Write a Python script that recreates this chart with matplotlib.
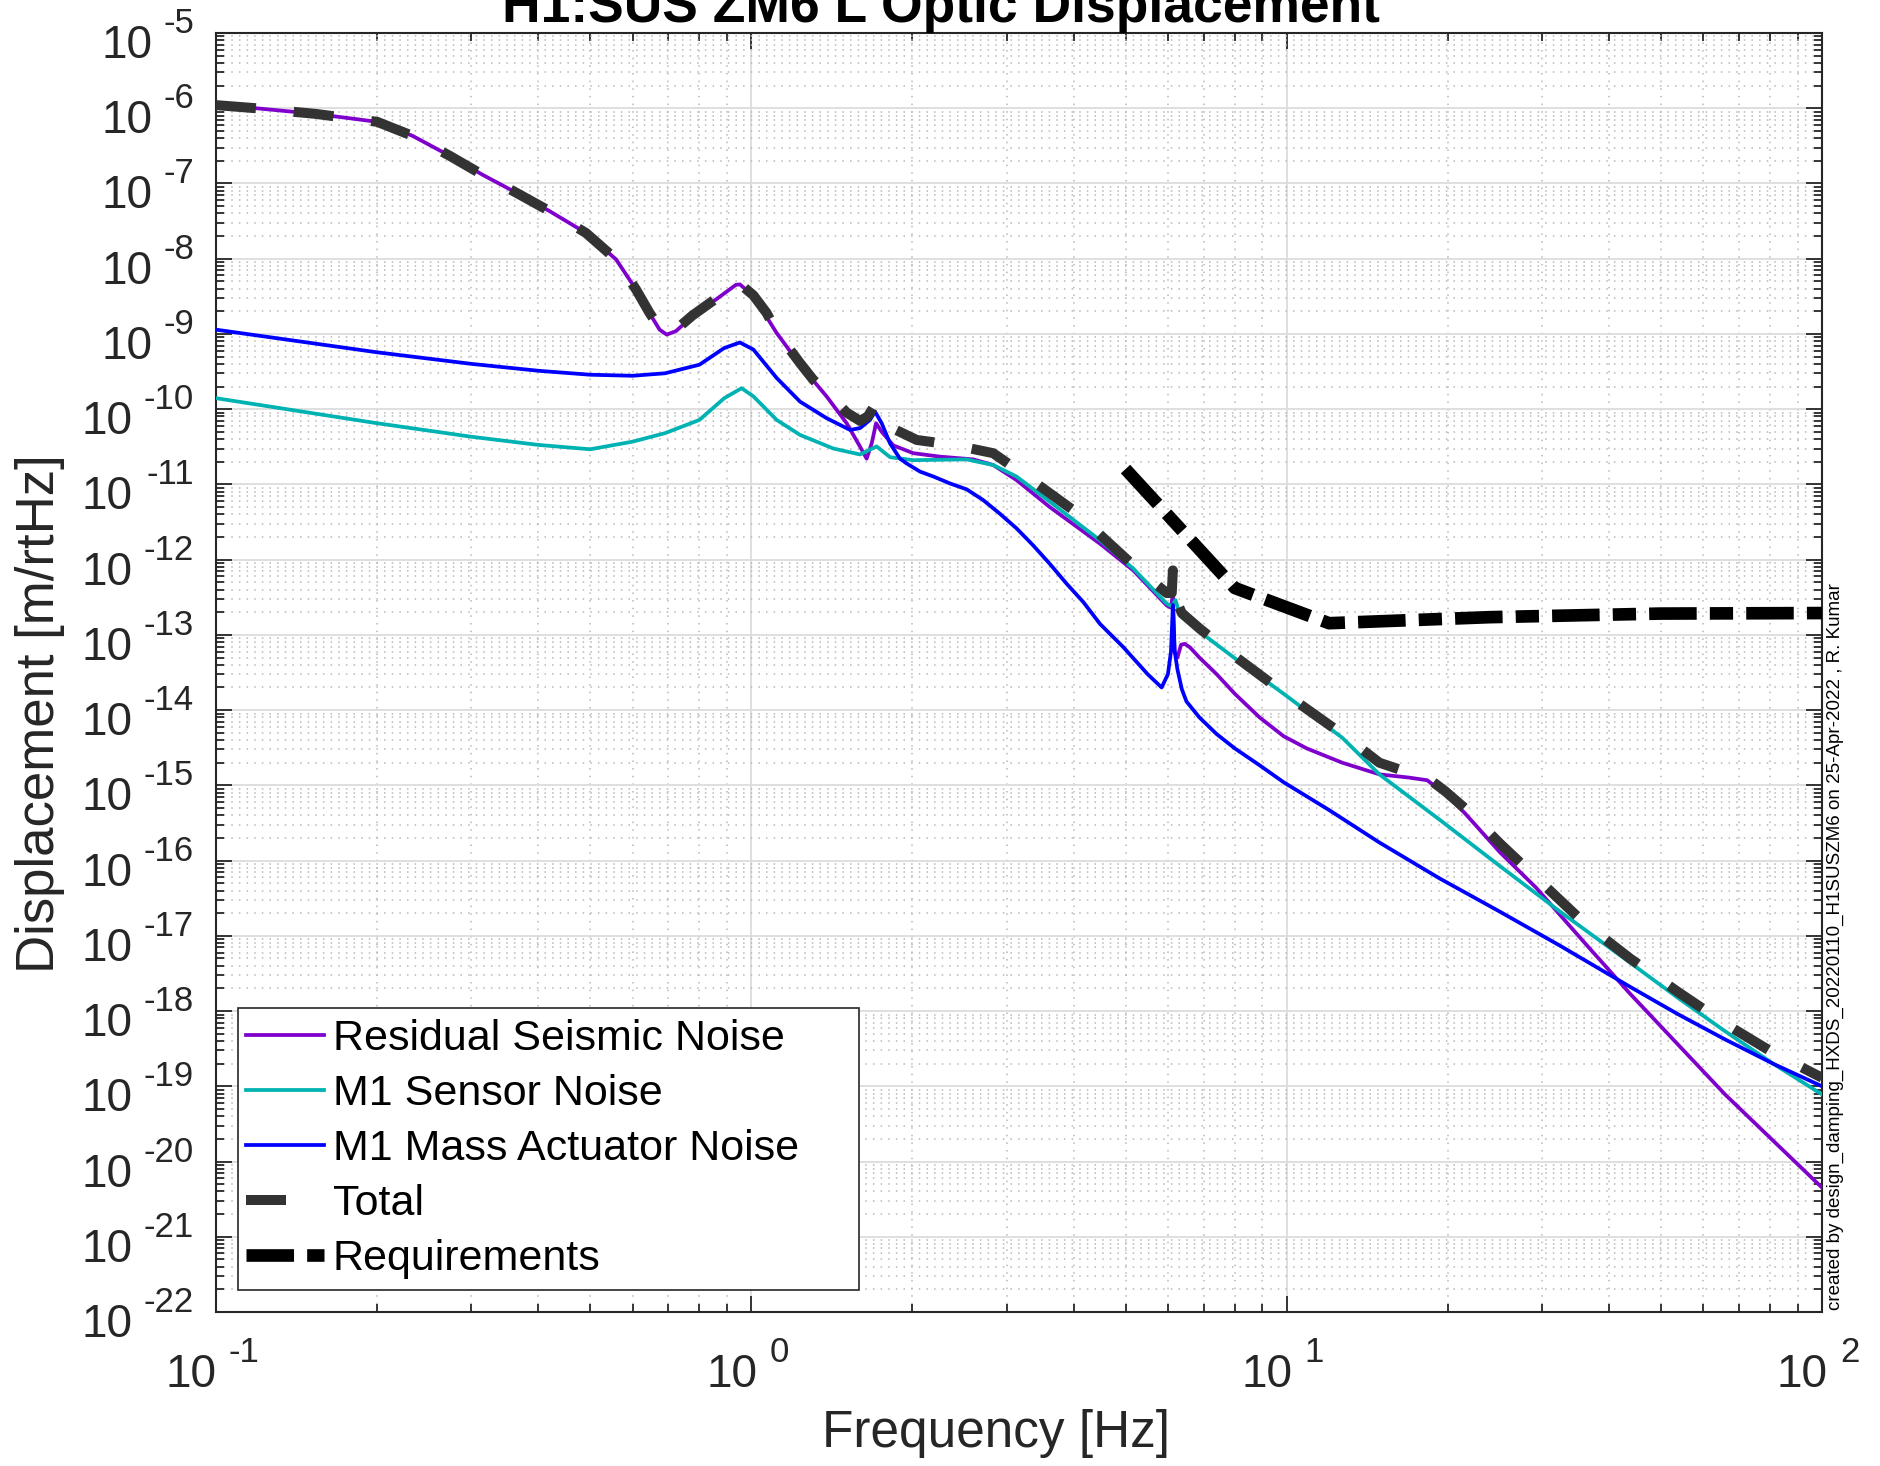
import matplotlib
matplotlib.use("Agg")
import matplotlib.pyplot as plt
from matplotlib.ticker import LogLocator, NullFormatter
from matplotlib.patches import Rectangle
import numpy as np

# ---------------- data ----------------
f_seis = [0.1, 0.1188, 0.1537, 0.2, 0.2328, 0.273, 0.315, 0.363, 0.4196, 0.491,
          0.5588, 0.609, 0.645, 0.674, 0.695, 0.723, 0.777, 0.859, 0.936, 0.952,
          1.009, 1.115, 1.233, 1.382, 1.507, 1.596, 1.642, 1.678, 1.71, 1.752,
          1.842, 2.007, 2.25, 2.598, 2.83, 3.13, 3.61, 4.48, 5.17, 5.97,
          6.08, 6.13, 6.17, 6.25, 6.35, 6.45, 6.6, 6.87, 7.4, 8.0,
          8.9, 9.87, 10.9, 12.7, 14.9, 16.9, 18.3, 19.8, 21.5, 25.0,
          29.2, 35.9, 43.8, 53.8, 65.9, 81.0, 100.0]
v_seis = [1.1e-6, 1.0e-6, 8.4e-7, 6.6e-7, 4.3e-7, 2.34e-7, 1.3e-7, 7.6e-8, 4.3e-8, 2.2e-8,
          9.8e-9, 3.9e-9, 1.9e-9, 1.14e-9, 9.8e-10, 1.09e-9, 1.72e-9, 2.87e-9, 4.5e-9, 4.55e-9,
          3.2e-9, 1.03e-9, 3.9e-10, 1.48e-10, 6.5e-11, 3.18e-11, 2.2e-11, 3.5e-11, 6.5e-11, 5.0e-11,
          3.3e-11, 2.6e-11, 2.34e-11, 2.15e-11, 1.81e-11, 1.14e-11, 5.0e-12, 1.63e-12, 7.2e-13, 2.46e-13,
          2.3e-13, 3.5e-13, 6.0e-14, 5.0e-14, 7.4e-14, 7.6e-14, 6.8e-14, 5.0e-14, 3.0e-14, 1.65e-14,
          8.0e-15, 4.5e-15, 3.1e-15, 2.0e-15, 1.4e-15, 1.27e-15, 1.17e-15, 7.6e-16, 4.3e-16, 1.3e-16,
          4.4e-17, 8.3e-18, 1.7e-18, 3.6e-19, 7.8e-20, 1.9e-20, 4.5e-21]

f_sens = [0.1, 0.2, 0.3, 0.4, 0.5, 0.6, 0.69, 0.8, 0.89, 0.959,
          1.009, 1.115, 1.233, 1.423, 1.596, 1.714, 1.816, 2.007, 2.524, 2.83,
          3.13, 3.61, 4.48, 5.17, 5.97, 6.1, 6.2, 6.32, 6.89, 8.0,
          9.87, 12.7, 14.9, 19.3, 25.0, 32.4, 43.8, 53.8, 65.9, 81.0, 100.0]
v_sens = [1.4e-10, 6.5e-11, 4.3e-11, 3.35e-11, 2.93e-11, 3.7e-11, 4.8e-11, 7.2e-11, 1.4e-10, 1.9e-10,
          1.48e-10, 7.2e-11, 4.55e-11, 3.0e-11, 2.5e-11, 3.2e-11, 2.3e-11, 2.1e-11, 2.15e-11, 1.81e-11,
          1.27e-11, 5.9e-12, 1.81e-12, 7.6e-13, 2.6e-13, 2.4e-13, 2.9e-13, 1.8e-13, 1.09e-13, 4.9e-14,
          1.65e-14, 4.3e-15, 1.4e-15, 3.5e-16, 8.5e-17, 2.1e-17, 4.4e-18, 1.5e-18, 5.4e-19, 2.0e-19, 7.8e-20]

f_act = [0.1, 0.2, 0.3, 0.4, 0.5, 0.6, 0.69, 0.8, 0.89, 0.952,
         1.009, 1.115, 1.233, 1.382, 1.529, 1.596, 1.666, 1.702, 1.752, 1.816,
         1.895, 1.95, 2.066, 2.19, 2.35, 2.525, 2.71, 2.91, 3.13, 3.36,
         3.61, 3.88, 4.17, 4.48, 4.95, 5.5, 5.84, 6.0, 6.08, 6.13,
         6.18, 6.25, 6.37, 6.5, 6.87, 7.4, 8.0, 8.9, 9.87, 12.0,
         14.9, 19.3, 25.0, 32.4, 43.8, 53.8, 65.9, 81.0, 100.0]
v_act = [1.14e-9, 5.7e-10, 4.0e-10, 3.24e-10, 2.87e-10, 2.78e-10, 3.0e-10, 3.9e-10, 6.5e-10, 7.7e-10,
         6.2e-10, 2.6e-10, 1.26e-10, 7.6e-11, 5.3e-11, 5.6e-11, 7.2e-11, 9.3e-11, 6.5e-11, 3.5e-11,
         2.2e-11, 1.9e-11, 1.48e-11, 1.27e-11, 1.03e-11, 8.6e-12, 6.2e-12, 4.1e-12, 2.6e-12, 1.55e-12,
         8.8e-13, 4.8e-13, 2.73e-13, 1.4e-13, 6.9e-14, 3.0e-14, 2.0e-14, 3.0e-14, 6.0e-14, 2.5e-13,
         6.0e-14, 3.5e-14, 1.9e-14, 1.3e-14, 8.0e-15, 4.8e-15, 3.1e-15, 1.85e-15, 1.1e-15, 4.7e-16,
         1.74e-16, 5.8e-17, 2.1e-17, 7.4e-18, 2.1e-18, 9.1e-19, 4.2e-19, 2.0e-19, 1.0e-19]

f_tot = [0.1, 0.1188, 0.1537, 0.2, 0.2328, 0.273, 0.315, 0.363, 0.4196, 0.491,
         0.5588, 0.609, 0.645, 0.674, 0.695, 0.723, 0.777, 0.859, 0.936, 0.952,
         1.009, 1.068, 1.115, 1.233, 1.305, 1.382, 1.507, 1.596, 1.65, 1.702,
         1.765, 1.842, 2.036, 2.384, 2.83, 3.27, 4.0, 5.17, 5.97, 6.1,
         6.13, 6.17, 6.2, 6.37, 6.89, 8.0, 9.87, 12.7, 14.9, 16.9,
         18.3, 19.8, 21.5, 25.0, 29.2, 35.9, 43.8, 53.8, 65.9, 81.0, 100.0]
v_tot = [1.1e-6, 1.0e-6, 8.4e-7, 6.6e-7, 4.3e-7, 2.34e-7, 1.3e-7, 7.6e-8, 4.3e-8, 2.2e-8,
         9.8e-9, 3.9e-9, 1.92e-9, 1.19e-9, 1.05e-9, 1.14e-9, 1.77e-9, 2.95e-9, 4.6e-9, 4.62e-9,
         3.26e-9, 1.9e-9, 1.07e-9, 4.1e-10, 2.46e-10, 1.7e-10, 9.0e-11, 7.0e-11, 8.0e-11, 1.14e-10,
         8.9e-11, 5.5e-11, 3.9e-11, 3.35e-11, 2.6e-11, 1.27e-11, 4.5e-12, 8.4e-13, 3.6e-13, 3.6e-13,
         7.2e-13, 3.0e-13, 3.0e-13, 1.95e-13, 1.2e-13, 5.2e-14, 1.71e-14, 4.8e-15, 2.0e-15, 1.48e-15,
         1.27e-15, 8.3e-16, 5.0e-16, 1.7e-16, 6.0e-17, 1.5e-17, 5.0e-18, 1.8e-18, 6.8e-19, 2.8e-19, 1.3e-19]

f_req = [5.0, 8.0, 12.0, 24.0, 50.0, 100.0]
v_req = [1.6e-11, 4.2e-13, 1.43e-13, 1.72e-13, 1.92e-13, 1.95e-13]

x_decades = [-1, 0, 1, 2]
y_decades = list(range(-22, -4))

labels = ["Residual Seismic Noise", "M1 Sensor Noise", "M1 Mass Actuator Noise",
          "Total", "Requirements"]
title = "H1:SUS ZM6 L Optic Displacement"
xlabel = "Frequency [Hz]"
ylabel = "Displacement [m/rtHz]"
stamp = "created by design_damping_HXDS_20220110_H1SUSZM6 on 25-Apr-2022 , R. Kumar"

# ---------------- style ----------------
plt.rcParams['font.family'] = ['Liberation Sans', 'DejaVu Sans']

TXT = '#262626'
fig = plt.figure(figsize=(18.81, 14.66), dpi=100)
ax = fig.add_axes([216/1881, 1 - 1312/1466, (1822-216)/1881, (1312-33)/1466])

ax.plot(f_seis, v_seis, color='#7f00cc', lw=2.7, label=labels[0], zorder=3)
ax.plot(f_sens, v_sens, color='#00b2b2', lw=2.7, label=labels[1], zorder=3)
ax.plot(f_act, v_act, color='#0000ff', lw=2.7, label=labels[2], zorder=3)
ax.plot(f_tot, v_tot, color='#333333', lw=7.2, ls=(0, (4.0, 3.8)), label=labels[3],
        zorder=4, dash_capstyle='butt')
ax.plot(f_req, v_req, color='black', lw=9.1, ls=(0, (3.76, 1.04, 1.84, 1.04)), label=labels[4],
        zorder=5, dash_capstyle='butt')

ax.set_xscale('log')
ax.set_yscale('log')
ax.set_xlim(0.1, 100)
ax.set_ylim(1e-22, 1e-5)

ax.xaxis.set_major_locator(LogLocator(base=10, numticks=30))
ax.yaxis.set_major_locator(LogLocator(base=10, numticks=30))
ax.xaxis.set_minor_locator(LogLocator(base=10, subs=np.arange(2, 10), numticks=60))
ax.yaxis.set_minor_locator(LogLocator(base=10, subs=np.arange(2, 10), numticks=60))
ax.xaxis.set_minor_formatter(NullFormatter())
ax.yaxis.set_minor_formatter(NullFormatter())

ax.tick_params(which='both', direction='in', top=True, right=True, colors=TXT, width=1.3,
               labelbottom=False, labelleft=False)
ax.tick_params(which='major', length=11.5)
ax.tick_params(which='minor', length=6)

# MATLAB-style "10 ^-n" tick labels (base and exponent as separate real texts)
BASE_FS, EXP_FS = 33, 25
em_b = BASE_FS * 100 / 72.0
em_e = EXP_FS * 100 / 72.0
w_base = 1.112 * em_b


def exp_width(s):
    return sum(0.333 if c == '-' else 0.556 for c in s) * em_e


for d in y_decades:
    s = str(d)
    we = exp_width(s)
    ax.annotate(s, xy=(0, 10.0 ** d), xycoords=ax.get_yaxis_transform(),
                xytext=(-22, 0), textcoords='offset pixels', ha='right', va='baseline',
                fontsize=EXP_FS, color=TXT, annotation_clip=False)
    ax.annotate('10', xy=(0, 10.0 ** d), xycoords=ax.get_yaxis_transform(),
                xytext=(-22 - we - 11, -25), textcoords='offset pixels', ha='right',
                va='baseline', fontsize=BASE_FS, color=TXT, annotation_clip=False)

for d in x_decades:
    s = str(d)
    we = exp_width(s)
    W = w_base + 12 + we
    left = -W / 2 - 4
    ax.annotate('10', xy=(10.0 ** d, 0), xycoords=ax.get_xaxis_transform(),
                xytext=(left, -75), textcoords='offset pixels', ha='left', va='baseline',
                fontsize=BASE_FS, color=TXT, annotation_clip=False)
    ax.annotate(s, xy=(10.0 ** d, 0), xycoords=ax.get_xaxis_transform(),
                xytext=(left + w_base + 12, -50), textcoords='offset pixels', ha='left',
                va='baseline', fontsize=EXP_FS, color=TXT, annotation_clip=False)

ax.set_axisbelow(True)
ax.grid(True, which='major', color='#dcdcdc', lw=1.3, ls='-')
ax.grid(True, which='minor', color='#b8b8b8', lw=1.1, ls=(0, (1, 4)))
for s in ax.spines.values():
    s.set_color(TXT)
    s.set_linewidth(1.5)

ax.set_xlabel(xlabel, fontsize=37, color=TXT)
ax.set_ylabel(ylabel, fontsize=38, color=TXT)
ax.xaxis.set_label_coords((996-216)/1606, -(1434-1312)/1279)
ax.yaxis.set_label_coords(-(216-40)/1606, (1312-714)/1279)
for lab in (ax.xaxis.label, ax.yaxis.label):
    lab.set_va('center')

fig.text(0.5, 1 - 22/1466, title, ha='center', va='baseline', fontsize=38.4,
         fontweight='bold', color='black')
fig.text(1835/1881, 1 - 1310/1466, stamp, rotation=90, ha='center', va='bottom',
         fontsize=13.5, color='black')

# legend with MATLAB-like box
box = Rectangle(((238-216)/1606, (1312-1290)/1279), (859-238)/1606, (1290-1008)/1279,
                transform=ax.transAxes, facecolor='white', edgecolor=TXT, lw=1.2, zorder=6)
ax.add_patch(box)
leg = ax.legend(loc='center left', bbox_to_anchor=((246-216)/1606, (1312-1149)/1279),
                borderaxespad=0, fontsize=31, frameon=False,
                handlelength=1.81, handletextpad=0.21,
                labelspacing=0.353, borderpad=0)
leg.set_zorder(7)
hl = leg.get_lines()
hl[3].set_linestyle((0, (4.0, 6.0)))
hl[4].set_linestyle((0, (3.76, 1.04, 1.84, 1.04)))
for t in leg.get_texts():
    t.set_color('black')

fig.savefig('out.png', dpi=100)
